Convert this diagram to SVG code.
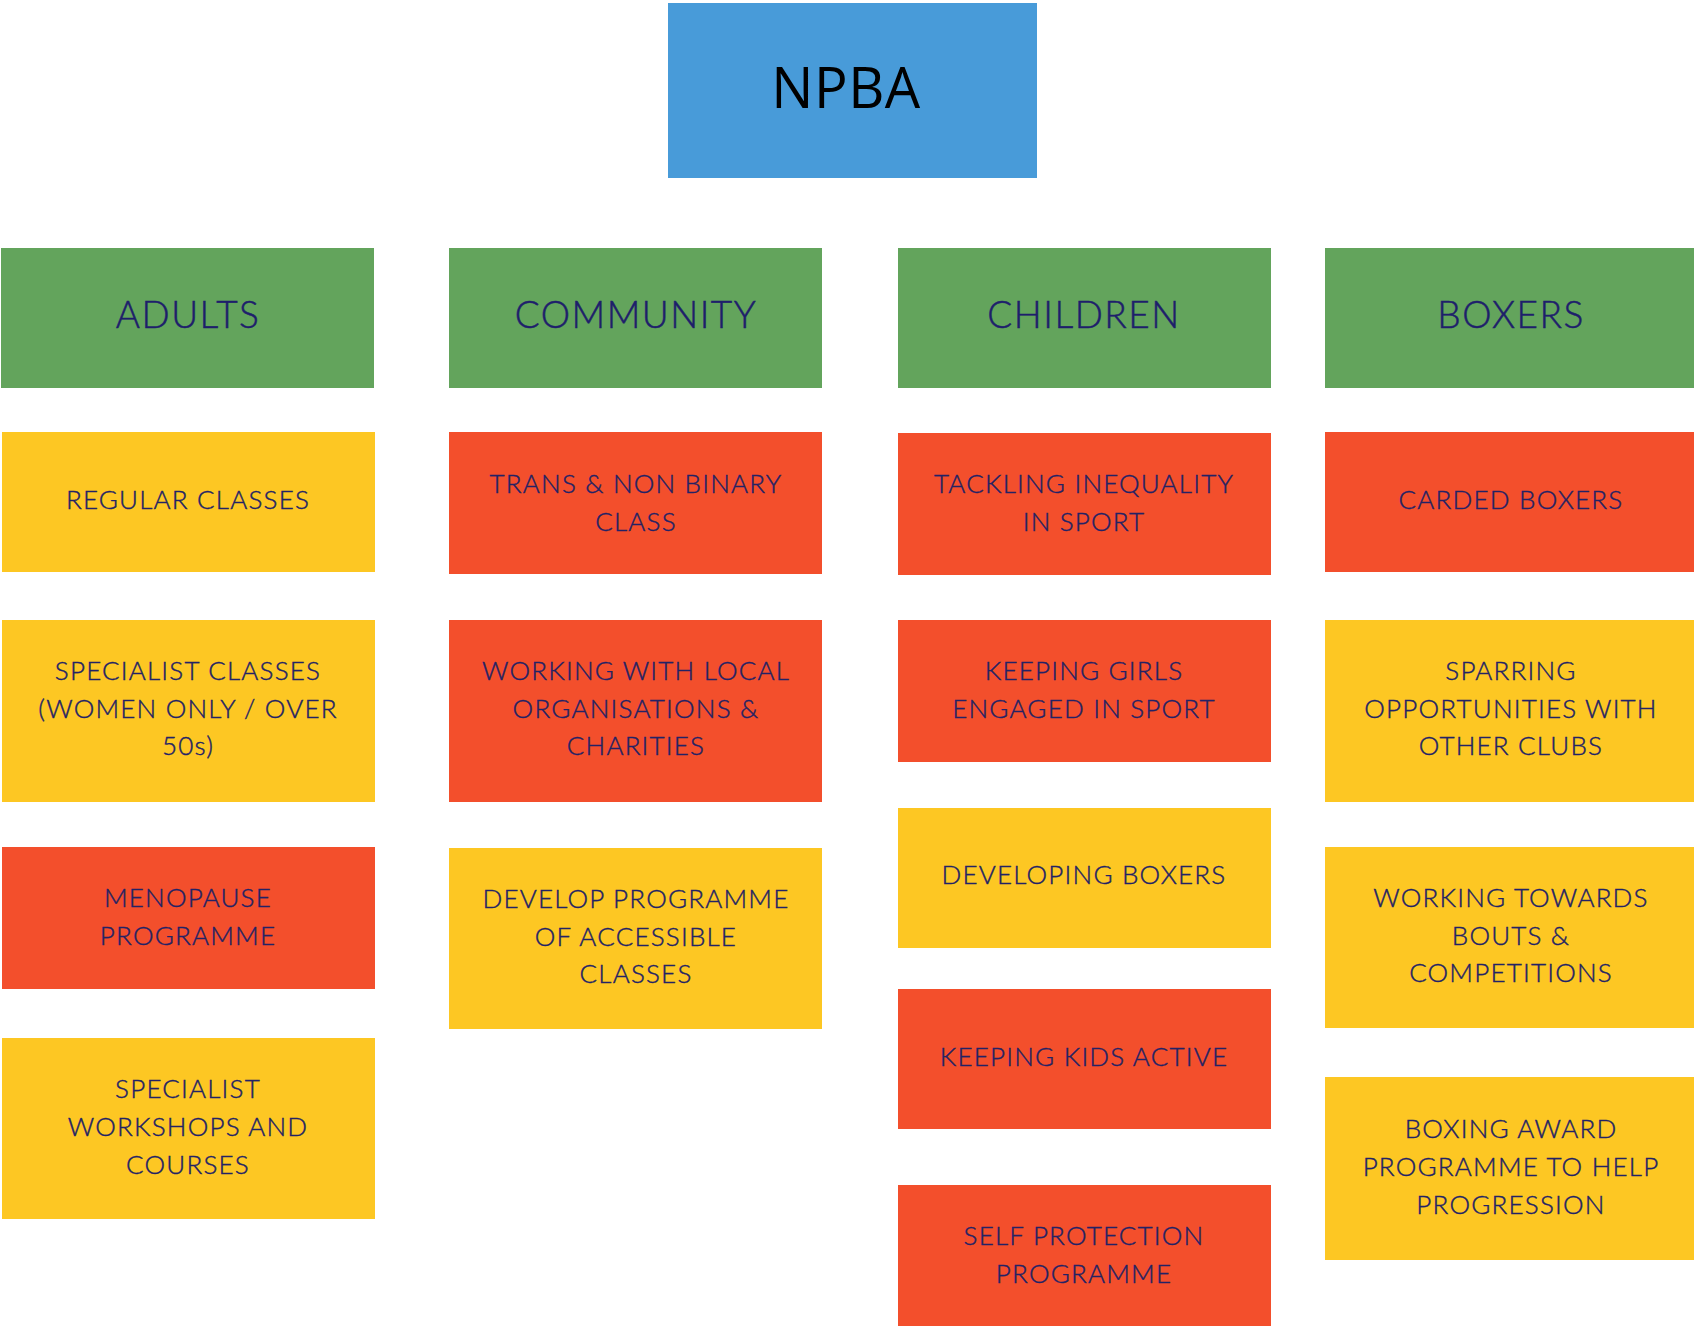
<svg xmlns="http://www.w3.org/2000/svg" width="1694" height="1326" viewBox="0 0 1694 1326">
<style>
.blue{fill:#489BD9}.green{fill:#63A45C}.yel{fill:#FDC723}.red{fill:#F34F2C}
.t{font-family:Lato,"Open Sans","Liberation Sans",sans-serif;font-weight:300;font-size:26px;fill:#222266;stroke:#222266;stroke-width:0.4px;text-anchor:middle;letter-spacing:1.2px}
.h{font-family:Lato,"Open Sans","Liberation Sans",sans-serif;font-weight:300;font-size:37px;fill:#1E1E6B;stroke:#1E1E6B;stroke-width:0.5px;text-anchor:middle;letter-spacing:1.5px}
.title{font-family:"Open Sans","Liberation Sans",sans-serif;font-size:56px;fill:#000;text-anchor:middle;letter-spacing:0.5px}
</style>
<rect width="1694" height="1326" fill="#fff"/>
<g id="npba"><rect class="blue" x="668" y="3" width="369" height="175"/><text class="title" x="846" y="108">NPBA</text></g>
<g id="connectors"></g>
<g id="adults"><rect class="green" x="1" y="248" width="373" height="140"/><text class="h" x="188" y="328">ADULTS</text></g>
<g id="community"><rect class="green" x="449" y="248" width="373" height="140"/><text class="h" x="636" y="328">COMMUNITY</text></g>
<g id="children"><rect class="green" x="898" y="248" width="373" height="140"/><text class="h" x="1084" y="328">CHILDREN</text></g>
<g id="boxers"><rect class="green" x="1325" y="248" width="369" height="140"/><text class="h" x="1511" y="328">BOXERS</text></g>

<g id="regular"><rect class="yel" x="2" y="432" width="373" height="140"/><text class="t" x="188" y="509">REGULAR CLASSES</text></g>
<g id="specialist"><rect class="yel" x="2" y="620" width="373" height="182"/><text class="t" x="188" y="680">SPECIALIST CLASSES</text><text class="t" x="188" y="718">(WOMEN ONLY / OVER</text><text class="t" x="188" y="755">50s)</text></g>
<g id="menopause"><rect class="red" x="2" y="847" width="373" height="142"/><text class="t" x="188" y="907">MENOPAUSE</text><text class="t" x="188" y="945">PROGRAMME</text></g>
<g id="workshops"><rect class="yel" x="2" y="1038" width="373" height="181"/><text class="t" x="188" y="1098">SPECIALIST</text><text class="t" x="188" y="1136">WORKSHOPS AND</text><text class="t" x="188" y="1174">COURSES</text></g>

<g id="trans"><rect class="red" x="449" y="432" width="373" height="142"/><text class="t" x="636" y="493">TRANS &amp; NON BINARY</text><text class="t" x="636" y="531">CLASS</text></g>
<g id="local"><rect class="red" x="449" y="620" width="373" height="182"/><text class="t" x="636" y="680">WORKING WITH LOCAL</text><text class="t" x="636" y="718">ORGANISATIONS &amp;</text><text class="t" x="636" y="755">CHARITIES</text></g>
<g id="develop"><rect class="yel" x="449" y="848" width="373" height="181"/><text class="t" x="636" y="908">DEVELOP PROGRAMME</text><text class="t" x="636" y="946">OF ACCESSIBLE</text><text class="t" x="636" y="983">CLASSES</text></g>

<g id="tackling"><rect class="red" x="898" y="433" width="373" height="142"/><text class="t" x="1084" y="493">TACKLING INEQUALITY</text><text class="t" x="1084" y="531">IN SPORT</text></g>
<g id="girls"><rect class="red" x="898" y="620" width="373" height="142"/><text class="t" x="1084" y="680">KEEPING GIRLS</text><text class="t" x="1084" y="718">ENGAGED IN SPORT</text></g>
<g id="developing"><rect class="yel" x="898" y="808" width="373" height="140"/><text class="t" x="1084" y="884">DEVELOPING BOXERS</text></g>
<g id="kids"><rect class="red" x="898" y="989" width="373" height="140"/><text class="t" x="1084" y="1066">KEEPING KIDS ACTIVE</text></g>
<g id="selfprot"><rect class="red" x="898" y="1185" width="373" height="141"/><text class="t" x="1084" y="1245">SELF PROTECTION</text><text class="t" x="1084" y="1283">PROGRAMME</text></g>

<g id="carded"><rect class="red" x="1325" y="432" width="369" height="140"/><text class="t" x="1511" y="509">CARDED BOXERS</text></g>
<g id="sparring"><rect class="yel" x="1325" y="620" width="369" height="182"/><text class="t" x="1511" y="680">SPARRING</text><text class="t" x="1511" y="718">OPPORTUNITIES WITH</text><text class="t" x="1511" y="755">OTHER CLUBS</text></g>
<g id="towards"><rect class="yel" x="1325" y="847" width="369" height="181"/><text class="t" x="1511" y="907">WORKING TOWARDS</text><text class="t" x="1511" y="945">BOUTS &amp;</text><text class="t" x="1511" y="982">COMPETITIONS</text></g>
<g id="award"><rect class="yel" x="1325" y="1077" width="369" height="183"/><text class="t" x="1511" y="1138">BOXING AWARD</text><text class="t" x="1511" y="1176">PROGRAMME TO HELP</text><text class="t" x="1511" y="1214">PROGRESSION</text></g>
</svg>
